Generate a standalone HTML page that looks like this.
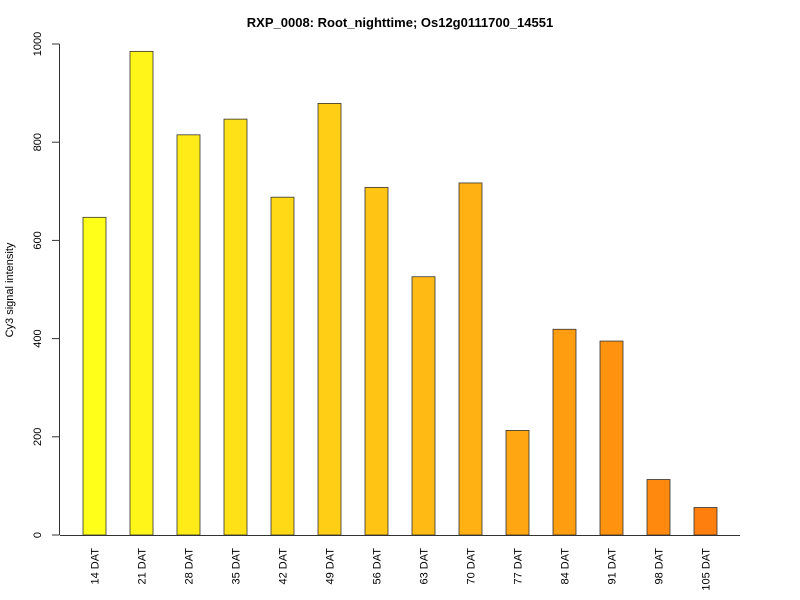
<!DOCTYPE html>
<html><head><meta charset="utf-8"><style>
body{margin:0;background:#fff;}
svg{display:block;font-family:"Liberation Sans",Arial,sans-serif;}
</style></head><body>
<svg id="chart" width="800" height="600" viewBox="0 0 800 600">
<text x="400" y="27" text-anchor="middle" font-size="13" font-weight="bold">RXP_0008: Root_nighttime; Os12g0111700_14551</text>
<text transform="translate(13,290) rotate(-90)" text-anchor="middle" font-size="11">Cy3 signal intensity</text>
<g id="bars"></g>
<g id="axes"></g>
</svg>
<script>
const categories=["14 DAT","21 DAT","28 DAT","35 DAT","42 DAT","49 DAT","56 DAT","63 DAT","70 DAT","77 DAT","84 DAT","91 DAT","98 DAT","105 DAT"];
const values=[647,985,815,847,688,879,708,526,717,213,419,395,113,56];
const yTicks=[0,200,400,600,800,1000];
const NS="http://www.w3.org/2000/svg";
function y(v){return 535-v*0.491;}
function x(i){return 83+i*47;}
function mk(t,a,p){const e=document.createElementNS(NS,t);for(const k in a)e.setAttribute(k,a[k]);p.appendChild(e);return e;}
const bars=document.getElementById('bars'),axes=document.getElementById('axes');
const n=categories.length;
categories.forEach((c,i)=>{
  const f=i/(n-1);
  const g=Math.round(255-f*(255-127)),b=Math.round(26-f*(26-14));
  const r=mk('rect',{x:x(i),y:y(values[i]),width:23,height:535-y(values[i]),fill:`rgb(255,${g},${b})`,stroke:'#333','stroke-width':0.8},bars);
  
  
  const t=mk('text',{transform:`translate(${x(i)+11.5+4},548) rotate(-90)`,'text-anchor':'end','font-size':11},axes);
  t.textContent=c;
  
  
});
const xl=mk('line',{x1:60,x2:740,y1:535.5,y2:535.5,stroke:'#333'},axes);


const yl=mk('line',{x1:59.5,x2:59.5,y1:y(0),y2:y(1000),stroke:'#333'},axes);


yTicks.forEach(v=>{
  const tk=mk('line',{x1:52,x2:59.5,y1:y(v),y2:y(v),stroke:'#333'},axes);
  
  
  const t=mk('text',{transform:`translate(41,${y(v)}) rotate(-90)`,'text-anchor':'middle','font-size':11},axes);
  t.textContent=v;
  
  
});
</script>
</body></html>
